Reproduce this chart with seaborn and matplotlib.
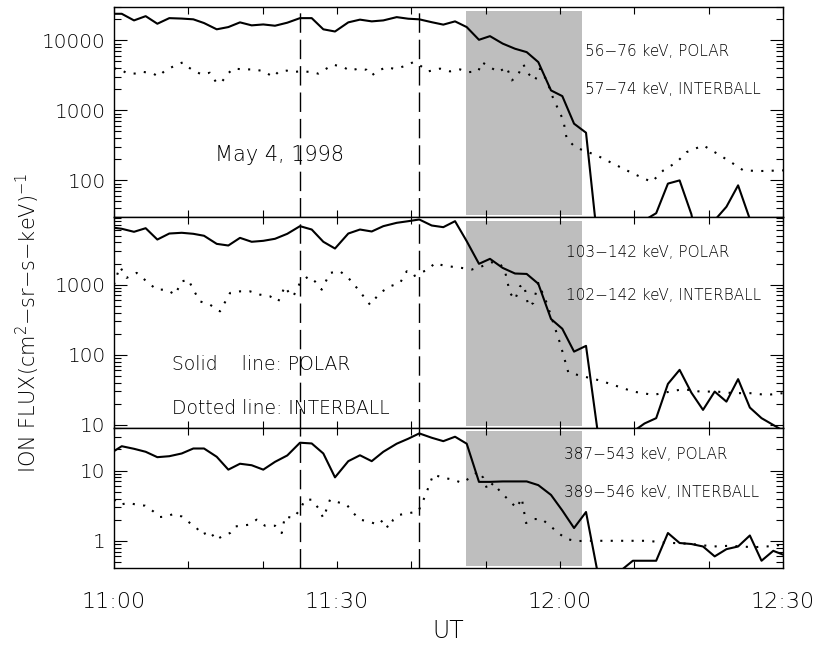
import matplotlib
matplotlib.use("Agg")
import matplotlib.pyplot as plt
import matplotlib.ticker as mticker
import pandas as pd
import seaborn as sns

# time in minutes after 11:00 UT
POLAR_T = [0, 1.04, 2.69, 4.26, 5.83, 7.44, 9.11, 10.67, 12.11, 13.82, 15.38, 16.95,
           18.52, 20.08, 21.66, 23.31, 25.02, 26.6, 28.16, 29.73, 31.52, 33.09, 34.67,
           36.23, 38.03, 39.59, 41.07, 42.74, 44.3, 45.88, 47.45, 49.1, 50.58, 52.29,
           53.95, 55.52, 57.08, 58.79, 60.31, 61.89, 63.5, 65.07, 66.65, 68.22, 69.8,
           71.37, 72.94, 74.52, 76.09, 77.67, 79.24, 80.81, 82.39, 83.96, 85.54, 87.11,
           88.69, 90.26]

POLAR_TOP = [24000, 24000, 19300, 22200, 17300, 20800, 20500, 20000, 17700, 14400, 15500,
             18100, 16400, 16900, 16200, 17900, 20800, 20800, 14400, 13400, 18100, 19800,
             18700, 19300, 21500, 20400, 20000, 18200, 16800, 18700, 15500, 10200, 11500,
             9000, 7600, 6800, 4900, 1930, 1600, 646, 480, 13, 5, 5, 5, 27, 34, 90, 100,
             33, 5, 27, 42, 85, 28, 5, 5, 5]

POLAR_MID = [6460, 6250, 5660, 6370, 4390, 5350, 5480, 5300, 4970, 3810, 3610, 4640, 4080,
             4210, 4500, 5300, 6810, 6100, 4080, 3270, 5350, 6100, 5720, 6810, 7600, 8020,
             8480, 6960, 6590, 8020, 4160, 1980, 2330, 1730, 1440, 1420, 1030, 324, 235,
             111, 134, 8, 4, 4, 8, 10.5, 12.5, 38.5, 61, 28.9, 16.4, 29.9, 21.5, 45, 17.7,
             12.5, 10, 8]

POLAR_BOT = [18.9, 22.2, 20.4, 18.5, 15.5, 16, 17.5, 20.6, 20.6, 15.7, 10.3, 12.5, 11.9,
             10.3, 13.3, 16.4, 24.9, 24.3, 17.5, 8.0, 13.6, 16.5, 13.6, 18.5, 24.1, 28.4,
             33.8, 29.3, 26.2, 30.3, 24.1, 6.9, 6.9, 7.0, 7.0, 7.0, 6.2, 4.5, 2.7, 1.52,
             2.57, 0.35, 0.2, 0.38, 0.52, 0.52, 0.52, 1.29, 0.93, 0.9, 0.83, 0.6, 0.76,
             0.83, 1.19, 0.52, 0.72, 0.62]

IB_TOP_T = [0, 0.81, 1.71, 3.05, 3.94, 5.29, 5.96, 6.86, 7.98, 9.24, 10.0, 10.67, 11.8,
            12.91, 13.82, 14.49, 15.38, 16.05, 17.62, 18.74, 20.09, 21.43, 22.1, 23.23,
            24.12, 25.02, 26.6, 27.48, 28.39, 29.5, 30.85, 31.75, 32.87, 34.0, 34.67,
            35.56, 36.69, 37.57, 38.48, 39.38, 40.27, 41.17, 42.28, 43.86, 45.2, 46.55,
            47.67, 49.01, 49.47, 50.58, 51.7, 52.83, 53.5, 54.18, 55.07, 55.74, 56.64,
            57.31, 58.21, 59.1, 60.45, 60.9, 62.02, 63.14, 64.94, 67.17, 69.86, 72.34,
            73.9, 75.7, 77.05, 79.28, 81.53, 83.32, 84.66, 86.91, 90.0]
IB_TOP = [3980, 3900, 3400, 3350, 3550, 3350, 3050, 3700, 4250, 4850, 4150, 3700, 3270,
          3450, 2450, 2550, 3400, 3950, 3850, 3850, 3650, 3000, 3550, 3700, 3550, 3600,
          3550, 3350, 3850, 4500, 4150, 3700, 3950, 3800, 3160, 3700, 4150, 3950, 4100,
          4390, 4900, 4390, 3610, 3950, 3610, 3850, 3520, 3610, 4900, 4160, 3520, 4160,
          2680, 2990, 4540, 3340, 2680, 3950, 2680, 1470, 720, 395, 300, 268, 228, 173,
          125, 95, 139, 182, 254, 316, 228, 173, 139, 136, 139]

IB_MID_T = [0, 0.58, 0.81, 1.71, 3.05, 4.4, 5.74, 7.09, 8.21, 9.11, 10.0, 10.67, 11.57,
            12.91, 14.26, 15.61, 16.95, 18.3, 19.64, 20.99, 22.1, 23.0, 23.68, 24.12,
            25.02, 26.14, 27.04, 27.94, 29.06, 30.4, 31.52, 32.87, 34.44, 35.78, 37.13,
            38.48, 39.38, 40.27, 41.17, 42.28, 43.18, 44.3, 45.65, 46.78, 48.12, 49.47,
            50.81, 51.93, 52.6, 53.27, 53.95, 54.62, 55.16, 55.74, 56.41, 57.08, 58.21,
            59.1, 60.0, 61.12, 62.69, 65.38, 68.07, 69.86, 72.55, 74.8, 76.59, 78.84,
            81.08, 83.32, 85.56, 87.81, 90.0]
IB_MID = [1000, 1550, 1790, 1250, 1470, 1110, 848, 848, 720, 1110, 1180, 848, 577, 518,
          416, 760, 802, 802, 720, 681, 577, 946, 720, 681, 1057, 1310, 1110, 848, 1470,
          1550, 1250, 848, 518, 760, 946, 1057, 1550, 1310, 1470, 1640, 2040, 1870, 1790,
          1730, 1640, 1820, 2080, 1990, 1550, 760, 611, 946, 1000, 490, 548, 1057, 548,
          284, 147, 56, 50.6, 43, 34.6, 29.9, 26.8, 29.9, 32.4, 29.9, 29.9, 28.4, 28.4,
          26.8, 28.4]

IB_BOT_T = [0, 0.81, 1.92, 3.05, 4.17, 5.29, 6.19, 7.09, 7.98, 9.11, 10.22, 11.13, 11.8,
            12.91, 13.72, 14.49, 15.61, 16.28, 17.18, 18.07, 19.2, 20.31, 21.66, 22.56,
            23.0, 24.12, 25.02, 25.7, 26.6, 27.48, 28.16, 29.06, 30.18, 31.3, 32.19,
            33.09, 34.21, 35.56, 36.23, 36.9, 37.57, 38.48, 39.82, 40.94, 41.84, 42.96,
            44.3, 45.65, 46.78, 47.89, 49.01, 49.68, 50.22, 51.03, 51.93, 53.27, 54.18,
            54.85, 55.43, 56.41, 57.54, 58.66, 59.77, 60.9, 62.25, 63.59, 66.28, 68.97,
            71.66, 74.35, 77.49, 80.62, 82.87, 86.0, 87.81, 90.0]
IB_BOT = [3.85, 3.27, 3.46, 3.27, 3.16, 2.62, 2.18, 2.22, 2.41, 2.22, 1.79, 1.52, 1.22,
          1.36, 1.03, 1.15, 1.29, 1.6, 1.64, 1.69, 2.0, 1.64, 1.64, 1.29, 2.22, 2.11, 2.77,
          3.85, 3.85, 2.93, 2.11, 3.85, 3.53, 3.27, 2.49, 2.0, 1.89, 1.69, 2.0, 1.52, 2.0,
          2.35, 2.49, 2.62, 4.3, 8.77, 7.87, 7.44, 6.67, 7.87, 9.77, 7.87, 5.35, 6.67,
          5.06, 3.64, 2.93, 4.07, 1.79, 2.04, 2.04, 1.64, 1.29, 1.06, 0.99, 1.0, 1.0, 1.0,
          1.0, 0.94, 0.906, 0.83, 0.85, 0.81, 0.83, 0.88]

POLAR_LABELS = ["56\u221276 keV, POLAR", "103\u2212142 keV, POLAR", "387\u2212543 keV, POLAR"]
IB_LABELS = ["57\u221274 keV, INTERBALL", "102\u2212142 keV, INTERBALL",
             "389\u2212546 keV, INTERBALL"]
YLIMS = [(30, 30000), (9.2, 9200), (0.41, 41)]
EVENT_LINES = [25.0, 41.0]
SHADE = (47.36, 62.96)
XTICKS = [0, 30, 60, 90]
XTICK_LABELS = ["11:00", "11:30", "12:00", "12:30"]

sns.set_style("ticks")
plt.rcParams["font.family"] = ["DejaVu Sans"]
plt.rcParams["font.weight"] = 200
plt.rcParams["mathtext.default"] = "regular"
for key in ["text.color", "axes.labelcolor", "xtick.color", "ytick.color", "axes.edgecolor"]:
    plt.rcParams[key] = "black"

W, H = 819, 647
fig = plt.figure(figsize=(W / 100, H / 100), dpi=100)

# panel extents in pixels (top, bottom)
panels_px = [(7, 217), (217, 427.5), (427.5, 568)]
left_px, right_px = 114, 783

polar_sets = [POLAR_TOP, POLAR_MID, POLAR_BOT]
ib_sets = [(IB_TOP_T, IB_TOP), (IB_MID_T, IB_MID), (IB_BOT_T, IB_BOT)]
label_pos = [(0.704, 0.786, 0.605), (0.676, 0.833, 0.629), (0.673, 0.807, 0.536)]

axes = []
for i, (ptop, pbot) in enumerate(panels_px):
    ax = fig.add_axes([left_px / W, 1 - pbot / H, (right_px - left_px) / W, (pbot - ptop) / H])
    axes.append(ax)
    h = pbot - ptop

    ax.axvspan(SHADE[0], SHADE[1], ymin=2 / h, ymax=1 - 3.5 / h,
               color="#bebebe", lw=0, zorder=0.5)
    for xv in EVENT_LINES:
        ax.axvline(xv, color="black", lw=1.0, linestyle=(0, (14, 5)), zorder=1)

    dp = pd.DataFrame({"t": POLAR_T, "flux": polar_sets[i]})
    sns.lineplot(data=dp, x="t", y="flux", ax=ax, color="black", lw=1.5,
                 estimator=None, sort=False)
    ti, vi = ib_sets[i]
    di = pd.DataFrame({"t": ti, "flux": vi})
    sns.lineplot(data=di, x="t", y="flux", ax=ax, color="black", lw=1.5,
                 linestyle=(0, (1, 4)), estimator=None, sort=False)

    ax.set_yscale("log")
    ax.set_ylim(*YLIMS[i])
    ax.set_xlim(0, 90)
    ax.set_xlabel("")
    ax.set_ylabel("")

    ax.yaxis.set_major_locator(mticker.LogLocator(base=10))
    ax.yaxis.set_minor_locator(mticker.LogLocator(base=10, subs=range(2, 10)))
    ax.yaxis.set_major_formatter(mticker.FuncFormatter(lambda v, _: f"{v:g}"))
    ax.yaxis.set_minor_formatter(mticker.NullFormatter())
    ax.set_xticks(XTICKS)
    ax.set_xticks([10, 20, 40, 50, 70, 80], minor=True)

    ax.tick_params(axis="both", which="both", direction="in", top=True, right=True,
                   color="black", width=0.8)
    ax.tick_params(axis="y", which="major", length=9.5, pad=6, labelsize=14.5)
    ax.tick_params(axis="y", which="minor", length=5)
    ax.tick_params(axis="x", which="both", length=5)
    if i < 2:
        ax.set_xticklabels([])
    else:
        ax.set_xticklabels(XTICK_LABELS)
        ax.tick_params(axis="x", which="major", pad=17, labelsize=16)

    for sp in ax.spines.values():
        sp.set_visible(True)
        sp.set_color("black")
        sp.set_linewidth(1.0)

    lx, ly1, ly2 = label_pos[i]
    ax.text(lx, ly1, POLAR_LABELS[i], transform=ax.transAxes, fontsize=11,
            ha="left", va="center")
    ax.text(lx, ly2, IB_LABELS[i], transform=ax.transAxes, fontsize=11,
            ha="left", va="center")

axes[0].text(0.151, 0.295, "May 4, 1998", transform=axes[0].transAxes,
             fontsize=15, ha="left", va="center")
axes[1].text(0.087, 0.30, "Solid    line: POLAR", transform=axes[1].transAxes,
             fontsize=13.5, ha="left", va="center")
axes[1].text(0.087, 0.09, "Dotted line: INTERBALL", transform=axes[1].transAxes,
             fontsize=13.5, ha="left", va="center")

fig.text(448.5 / W, 1 - 631 / H, "UT", fontsize=17, ha="center", va="center")
fig.text(28 / W, 1 - 323 / H, "ION FLUX(cm$^2$\u2212sr\u2212s\u2212keV)$^{-1}$",
         rotation=90, fontsize=15, ha="center", va="center")

fig.savefig("out.png", dpi=100)
